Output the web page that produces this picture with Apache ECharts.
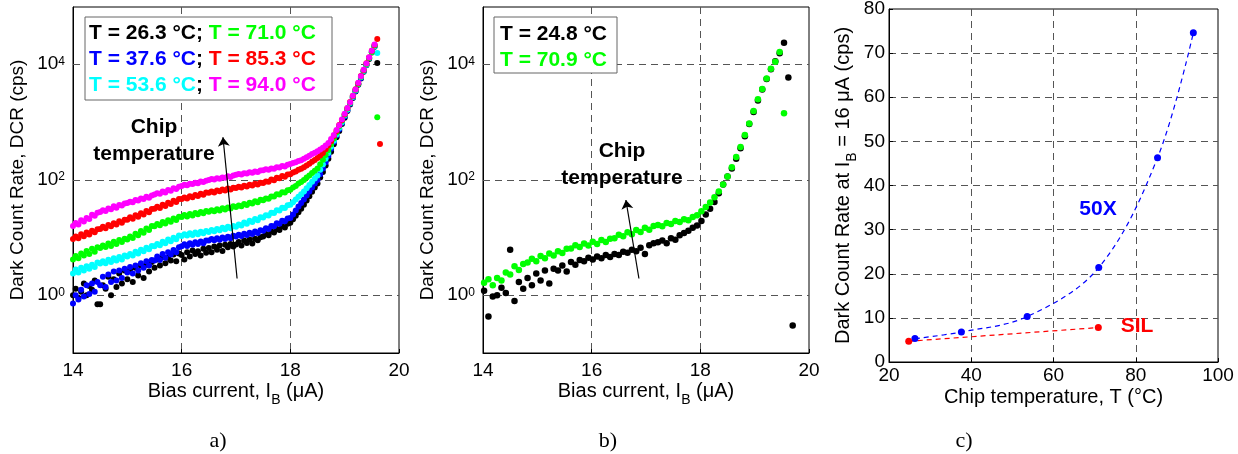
<!DOCTYPE html>
<html>
<head>
<meta charset="utf-8">
<script src="https://cdn.jsdelivr.net/npm/echarts@6/dist/echarts.min.js"></script>
<style>
  html, body { margin: 0; padding: 0; background: #fff; }
  #chart { width: 1238px; height: 454px; }
</style>
</head>
<body>
<div id="chart"></div>
<script>
// a) DCR vs bias current, 14.00 uA upwards in 0.05 uA steps
var startA = 14.0
var stepA = 0.05
var dcrA263 = [1.0, 1.3, 0.9, 1.15, 1.6, 1.0, 1.45, 1.25, 1.8, 0.7,
  0.7, 1.5, 1.3, 2.1, 1.0, 1.9, 1.4, 2.4, 1.6, 2.7,
  1.9, 2.8, 1.7, 3.0, 2.2, 3.3, 2.0, 3.4, 2.6, 3.8,
  3.0, 4.2, 3.3, 4.6, 3.6, 4.5, 4.0, 5.1, 3.9, 5.3,
  5.0, 4.2, 5.6, 4.7, 6.0, 5.2, 5.8, 4.9, 6.4, 5.5,
  6.6, 5.6, 7.0, 6.2, 7.3, 5.9, 7.5, 6.8, 7.8, 7.0,
  7.6, 8.4, 7.3, 8.9, 8.1, 9.3, 7.9, 9.6, 9.0, 10.2,
  10.5, 11.6, 11.0, 12.8, 12.3, 14.2, 13.6, 15.7, 15.0, 17.4,
  18.2, 20.9, 24, 27.5, 31.6, 37.2, 44.2, 52.5, 62.4, 74.1,
  87.1, 110, 138, 178, 234, 309, 417, 550, 708, 933,
  1200, 1580, 2040, 2630, 3430, 4470, 5750, 7500, 9770, 12600,
  16200, 20400, 10700]
var dcrA376 = [0.72, 1.0, 0.85, 1.25, 0.95, 1.5, 1.05, 1.6, 1.15, 1.7,
  1.5, 2.1, 1.4, 2.3, 1.7, 2.6, 1.8, 2.7, 2.0, 2.9,
  2.5, 3.1, 2.4, 3.3, 2.7, 3.6, 3.0, 3.9, 3.3, 4.1,
  4.0, 4.7, 4.1, 5.2, 4.5, 5.6, 5.1, 6.1, 5.6, 6.8,
  7.1, 7.7, 7.2, 8.0, 7.5, 8.3, 7.8, 8.6, 8.0, 8.9,
  8.9, 9.5, 9.0, 9.8, 9.2, 10.1, 9.5, 10.4, 9.8, 10.8,
  10.5, 11.2, 10.7, 11.7, 11.1, 12.2, 11.6, 12.8, 12.1, 13.4,
  13.2, 14.5, 14.2, 16.0, 15.8, 17.8, 17.4, 19.7, 19.3, 21.6,
  21.9, 25.1, 29.5, 34.7, 39.8, 45.7, 53.7, 63.1, 74.1, 87.1,
  100, 126, 158, 204, 263, 347, 457, 589, 759, 977,
  1260, 1620, 2090, 2690, 3510, 4570, 5890, 7670, 10000, 12900,
  16600, 20900]
var dcrA536 = [2.4, 2.8, 2.5, 3.0, 2.7, 3.2, 2.9, 3.4, 3.1, 3.7,
  3.55, 3.9, 3.6, 4.15, 3.8, 4.4, 4.0, 4.6, 4.2, 4.9,
  4.7, 5.2, 4.9, 5.7, 5.3, 6.2, 5.8, 6.7, 6.3, 7.2,
  7.1, 7.8, 7.4, 8.5, 8.0, 9.3, 8.7, 10, 9.4, 10.9,
  10.7, 11.5, 10.9, 11.9, 11.1, 12.3, 11.5, 12.7, 11.9, 13.1,
  12.6, 13.6, 12.9, 14.2, 13.4, 14.8, 14, 15.5, 14.6, 16,
  15.5, 17, 16.2, 18.3, 17.4, 19.6, 18.6, 21, 20, 22.5,
  22.4, 24.5, 24.2, 27, 26.8, 29.8, 29.5, 33, 32.6, 36.5,
  37.2, 41.3, 45.9, 51.1, 56.8, 63.1, 71.8, 81.7, 92.9, 106,
  120, 150, 186, 234, 295, 376, 479, 617, 794, 1000,
  1320, 1660, 2140, 2750, 3550, 4620, 6030, 7760, 10000, 12900,
  16600, 20900, 16000]
var dcrA710 = [4.2, 4.8, 4.4, 5.3, 4.9, 5.9, 5.2, 6.4, 5.7, 6.8,
  6.6, 7.3, 6.9, 7.9, 7.2, 8.5, 7.8, 9.1, 8.4, 9.6,
  9.3, 10.5, 9.9, 11.7, 11, 13, 12.2, 14.4, 13.6, 16,
  15.8, 17.3, 16.5, 18.7, 17.6, 20, 18.9, 21.4, 20.2, 23,
  22.9, 24.6, 23.3, 25.8, 24.3, 26.9, 25.4, 28, 26.4, 29,
  28.2, 30, 28.6, 31.2, 29.7, 32.3, 30.8, 33.5, 32, 35,
  33.9, 36.2, 35, 38.5, 37, 40.5, 39, 43, 41.2, 45.5,
  44.7, 47.8, 47.2, 52, 51.5, 56.5, 56, 61.5, 61, 66.5,
  67.6, 74, 79, 87, 92, 100, 110, 120, 132, 145,
  158, 188, 224, 272, 331, 417, 525, 668, 851, 1070,
  1350, 1740, 2190, 2820, 3630, 4680, 6170, 7940, 10200, 13200,
  16600, 21400, 1230]
var dcrA853 = [9.5, 10.5, 9.8, 11.5, 10.6, 12.3, 11.4, 13.2, 12.4, 14,
  14.1, 15.4, 14.6, 16.6, 15.8, 17.8, 16.9, 19.2, 18.2, 20.5,
  20.4, 22.5, 21.2, 24.5, 23.1, 26.6, 25.3, 29, 27.5, 31.5,
  31.6, 34.5, 32.8, 37.2, 35.4, 40.3, 38.3, 43.6, 41.5, 46.8,
  46.8, 49.5, 47.6, 52.3, 50.1, 55, 52.8, 57.8, 55.5, 61,
  60.3, 63.4, 61, 66, 63.5, 68.4, 65.8, 71, 68.3, 73.5,
  72.4, 76.2, 74, 79.5, 77.1, 83, 80.1, 86.5, 83.6, 90,
  89, 94.5, 93, 102, 99.5, 109, 107, 117, 114, 125,
  126, 135, 140, 151, 156, 166, 179, 192, 207, 223,
  240, 266, 295, 343, 398, 470, 580, 710, 900, 1100,
  1380, 1760, 2260, 2850, 3750, 4750, 6350, 8050, 10600, 13300,
  17400, 21900, 28000, 420]
var dcrA940 = [16, 18, 17, 20, 19, 22, 21, 25, 24, 27,
  28, 30, 29, 32, 31, 35, 33, 37, 36, 39,
  40, 42, 41, 45, 44, 48, 47, 51, 49, 54,
  56, 59, 58, 63, 61, 67, 65, 72, 70, 76,
  79, 83, 81, 86, 85, 90, 88, 94, 92, 97,
  100, 104, 102, 107, 105, 111, 109, 116, 113, 120,
  123, 127, 125, 131, 129, 136, 133, 140, 138, 146,
  148, 153, 151, 159, 157, 167, 164, 175, 172, 183,
  190, 198, 203, 214, 220, 234, 249, 264, 281, 298,
  316, 339, 363, 398, 437, 513, 603, 733, 891, 1120,
  1410, 1780, 2240, 2880, 3720, 4840, 6310, 8130, 10500, 13500,
  17400, 22400]

// b) 14.02 uA upwards in 0.08 uA steps
var startB = 14.02
var stepB = 0.08
var dcrB248 = [1.2, 0.43, 0.95, 1.0, 1.35, 1.1, 6.2, 0.8, 1.7, 1.3,
  2.0, 1.5, 2.4, 1.8, 2.7, 1.6, 2.9, 2.7, 3.3, 2.6,
  3.8, 3.4, 4.1, 3.9, 4.5, 4.2, 4.7, 4.4, 5.0, 4.6,
  5.2, 5.0, 5.7, 5.5, 6.2, 5.8, 6.7, 5.2, 7.4, 8.0,
  8.3, 8.9, 8.0, 9.8, 9.2, 11.0, 12.1, 13.2, 14.8, 16.2,
  19.5, 25.1, 31.6, 41.7, 58.9, 83.2, 115, 158, 234, 355,
  575, 933, 1510, 2400, 3720, 5620, 8320, 11500, 15800, 24000,
  6000, 0.3]
var dcrB709 = [1.66, 1.9, 1.5, 2.0, 1.8, 2.5, 2.3, 3.2, 2.75, 3.5,
  3.7, 4.3, 3.9, 4.8, 4.4, 5.3, 4.9, 5.8, 5.4, 6.4,
  6.5, 7.4, 6.9, 7.9, 7.3, 8.5, 7.8, 9.1, 8.4, 9.6,
  9.8, 11.2, 10.6, 12.4, 11.5, 13.6, 12.6, 14.8, 13.7, 16.0,
  16.6, 15.8, 18.0, 17.2, 19.4, 18.6, 20.8, 20.1, 22.8, 24.5,
  28.8, 33.9, 40.7, 50.1, 63.1, 83.2, 115, 166, 251, 372,
  603, 955, 1580, 2510, 3800, 5750, 8510, 11200, 16600, 1440]

// c) DCR at IB = 16 uA vs chip temperature
var temps50x = [26.3, 37.6, 53.6, 71.0, 85.3, 94.0]
var dcr50x = [5.3, 6.8, 10.3, 21.4, 46.3, 74.6]
var tempsSil = [24.8, 70.9]
var dcrSil = [4.7, 7.8]

var FONT = "'Liberation Sans', Arial, sans-serif"
var BOLD = 'bold 21px ' + FONT
var gridDash = { type: [7, 5], color: '#555', width: 1 }

function sweep(x0, dx, vals) {
  return vals.map(function (v, i) { return [Math.round((x0 + dx * i) * 100) / 100, v] })
}
function pairs(xs, ys) {
  return xs.map(function (x, i) { return [x, ys[i]] })
}

var supRich = {
  b: { fontSize: 19, lineHeight: 18, verticalAlign: 'bottom', color: '#000', fontFamily: FONT },
  e: { fontSize: 12, lineHeight: 12, verticalAlign: 'top', padding: [0, 0, 8, 0], color: '#000', fontFamily: FONT }
}
// subscript: taller bottom-aligned box pushes the small B below the main line
var subRich = {
  t: { fontSize: 20, lineHeight: 20, verticalAlign: 'top', color: '#000', fontFamily: FONT },
  s: { fontSize: 14, lineHeight: 26, verticalAlign: 'bottom', color: '#000', fontFamily: FONT }
}

function biasAxis(idx) {
  return {
    gridIndex: idx, type: 'value', min: 14, max: 20, interval: 2,
    axisLine: { show: true, lineStyle: { color: '#000' } },
    axisTick: { show: true, inside: true, length: 4, lineStyle: { color: '#000' } },
    axisLabel: { color: '#000', fontSize: 19, margin: 8, fontFamily: FONT },
    splitLine: { show: true, showMinLine: false, showMaxLine: false, lineStyle: gridDash },
    name: '{t|Bias current, I}{s|B}{t| (μA)}',
    nameLocation: 'middle', nameGap: 28, nameMoveOverlap: false,
    nameTextStyle: { rich: subRich }
  }
}
function dcrAxis(idx) {
  return {
    gridIndex: idx, type: 'log', logBase: 10, min: 0.1, max: 100000,
    axisLine: { show: true, lineStyle: { color: '#000' } },
    axisTick: { show: false },
    splitLine: { show: false },
    axisLabel: {
      margin: 8,
      formatter: function (v) {
        var e = Math.round(Math.log10(v))
        return e % 2 === 0 ? '{b|10}{e|' + e + '}' : ''
      },
      rich: supRich
    },
    name: 'Dark Count Rate, DCR (cps)',
    nameLocation: 'middle', nameGap: 46, nameMoveOverlap: false,
    nameTextStyle: { color: '#000', fontSize: 19, fontFamily: FONT }
  }
}
function dots(name, idx, data, color, size) {
  return {
    name: name, type: 'scatter', xAxisIndex: idx, yAxisIndex: idx,
    data: data, symbol: 'circle', symbolSize: size,
    itemStyle: { color: color, opacity: 1 }, silent: true
  }
}
var decadeLines = {
  silent: true, z: 1, symbol: 'none', label: { show: false },
  lineStyle: gridDash,
  data: [{ yAxis: 1 }, { yAxis: 100 }, { yAxis: 10000 }]
}
function arrow(from, to) {
  return {
    silent: true, symbol: ['none', 'arrow'], symbolSize: 9,
    label: { show: false },
    lineStyle: { color: '#000', width: 1.2, type: 'solid' },
    data: [[{ coord: from }, { coord: to }]]
  }
}

var sA263 = dots('26.3', 0, sweep(startA, stepA, dcrA263), '#000000', 6)
sA263.markLine = decadeLines
var sA376 = dots('37.6', 0, sweep(startA, stepA, dcrA376), '#0000ff', 6)
sA376.markLine = arrow([17.02, 1.96], [16.76, 550])
var sB248 = dots('24.8', 1, sweep(startB, stepB, dcrB248), '#000000', 6.5)
sB248.markLine = decadeLines
var sB709 = dots('70.9', 1, sweep(startB, stepB, dcrB709), '#00ff00', 6.5)
sB709.markLine = arrow([16.87, 1.96], [16.63, 45])

var chart = echarts.init(document.getElementById('chart'))
var option = {
  animation: false,
  backgroundColor: '#fff',
  textStyle: { fontFamily: FONT },
  grid: [
    { left: 73, top: 7, width: 326, height: 346, show: true, borderColor: '#000', borderWidth: 1, outerBoundsMode: 'none' },
    { left: 483, top: 7, width: 326, height: 346, show: true, borderColor: '#000', borderWidth: 1, outerBoundsMode: 'none' },
    { left: 889, top: 9, width: 329, height: 353, show: true, borderColor: '#000', borderWidth: 1, outerBoundsMode: 'none' }
  ],
  xAxis: [
    biasAxis(0),
    biasAxis(1),
    {
      gridIndex: 2, type: 'value', min: 20, max: 100, interval: 20,
      axisLine: { show: true, lineStyle: { color: '#000' } },
      axisTick: { show: true, inside: true, length: 4, lineStyle: { color: '#000' } },
      axisLabel: { color: '#000', fontSize: 19, margin: 4, fontFamily: FONT },
      splitLine: { show: true, showMinLine: false, showMaxLine: false, lineStyle: gridDash },
      name: 'Chip temperature, T (°C)',
      nameLocation: 'middle', nameGap: 25, nameMoveOverlap: false,
      nameTextStyle: { color: '#000', fontSize: 20, fontFamily: FONT }
    }
  ],
  yAxis: [
    dcrAxis(0),
    dcrAxis(1),
    {
      gridIndex: 2, type: 'value', min: 0, max: 80, interval: 10,
      axisLine: { show: true, lineStyle: { color: '#000' } },
      axisTick: { show: true, inside: true, length: 4, lineStyle: { color: '#000' } },
      axisLabel: { color: '#000', fontSize: 19, margin: 4, fontFamily: FONT },
      splitLine: { show: true, showMinLine: false, showMaxLine: false, lineStyle: gridDash },
      name: '{t|Dark Count Rate at I}{s|B}{t| = 16 μA (cps)}',
      nameLocation: 'middle', nameGap: 30, nameMoveOverlap: false,
      nameTextStyle: { rich: subRich }
    }
  ],
  series: [
    sA263, sA376,
    dots('53.6', 0, sweep(startA, stepA, dcrA536), '#00ffff', 6),
    dots('71.0', 0, sweep(startA, stepA, dcrA710), '#00ff00', 6),
    dots('85.3', 0, sweep(startA, stepA, dcrA853), '#ff0000', 6),
    dots('94.0', 0, sweep(startA, stepA, dcrA940), '#ff00ff', 6),
    sB248, sB709,
    {
      name: '50X', type: 'line', xAxisIndex: 2, yAxisIndex: 2,
      data: pairs(temps50x, dcr50x), smooth: 0.35,
      symbol: 'circle', symbolSize: 7, showSymbol: true,
      itemStyle: { color: '#0000ff', opacity: 1 },
      lineStyle: { color: '#0000ff', width: 1.2, type: [5, 4] }
    },
    {
      name: 'SIL', type: 'line', xAxisIndex: 2, yAxisIndex: 2,
      data: pairs(tempsSil, dcrSil),
      symbol: 'circle', symbolSize: 7,
      itemStyle: { color: '#ff0000', opacity: 1 },
      lineStyle: { color: '#ff0000', width: 1.2, type: [5, 4] }
    }
  ],
  graphic: [
    { type: 'rect', shape: { x: 85, y: 17, width: 247, height: 83 }, style: { fill: '#fff', stroke: '#666', lineWidth: 1 }, z: 100 },
    {
      type: 'text', x: 89, y: 20, z: 101,
      style: {
        text: '{k|T = 26.3 °C; }{g|T = 71.0 °C}\n{bl|T = 37.6 °C}{k|; }{r|T = 85.3 °C}\n{c|T = 53.6 °C}{k|; }{m|T = 94.0 °C}',
        font: BOLD, lineHeight: 26, fill: '#000',
        rich: {
          k: { fill: '#000', font: BOLD, lineHeight: 26 },
          g: { fill: '#00ff00', font: BOLD, lineHeight: 26 },
          bl: { fill: '#0000ff', font: BOLD, lineHeight: 26 },
          r: { fill: '#ff0000', font: BOLD, lineHeight: 26 },
          c: { fill: '#00ffff', font: BOLD, lineHeight: 26 },
          m: { fill: '#ff00ff', font: BOLD, lineHeight: 26 }
        }
      }
    },
    { type: 'rect', shape: { x: 494, y: 17, width: 123, height: 56 }, style: { fill: '#fff', stroke: '#666', lineWidth: 1 }, z: 100 },
    {
      type: 'text', x: 500, y: 21, z: 101,
      style: {
        text: '{k|T = 24.8 °C}\n{g|T = 70.9 °C}',
        font: BOLD, lineHeight: 26,
        rich: {
          k: { fill: '#000', font: BOLD, lineHeight: 26 },
          g: { fill: '#00ff00', font: BOLD, lineHeight: 26 }
        }
      }
    },
    { type: 'text', x: 154, y: 141, z: 101, style: { text: 'Chip\ntemperature', font: BOLD, lineHeight: 27, align: 'center', verticalAlign: 'middle', fill: '#000' } },
    { type: 'text', x: 622, y: 165, z: 101, style: { text: 'Chip\ntemperature', font: BOLD, lineHeight: 27, align: 'center', verticalAlign: 'middle', fill: '#000' } },
    { type: 'text', x: 1098, y: 209, z: 101, style: { text: '50X', font: BOLD, align: 'center', verticalAlign: 'middle', fill: '#0000ff' } },
    { type: 'text', x: 1137, y: 326, z: 101, style: { text: 'SIL', font: BOLD, align: 'center', verticalAlign: 'middle', fill: '#ff0000' } },
    { type: 'text', x: 218, y: 441, style: { text: 'a)', font: "22px 'Liberation Serif', 'Times New Roman', serif", align: 'center', verticalAlign: 'middle', fill: '#000' } },
    { type: 'text', x: 608, y: 441, style: { text: 'b)', font: "22px 'Liberation Serif', 'Times New Roman', serif", align: 'center', verticalAlign: 'middle', fill: '#000' } },
    { type: 'text', x: 964, y: 441, style: { text: 'c)', font: "22px 'Liberation Serif', 'Times New Roman', serif", align: 'center', verticalAlign: 'middle', fill: '#000' } }
  ]
}
chart.setOption(option)
</script>
</body>
</html>
